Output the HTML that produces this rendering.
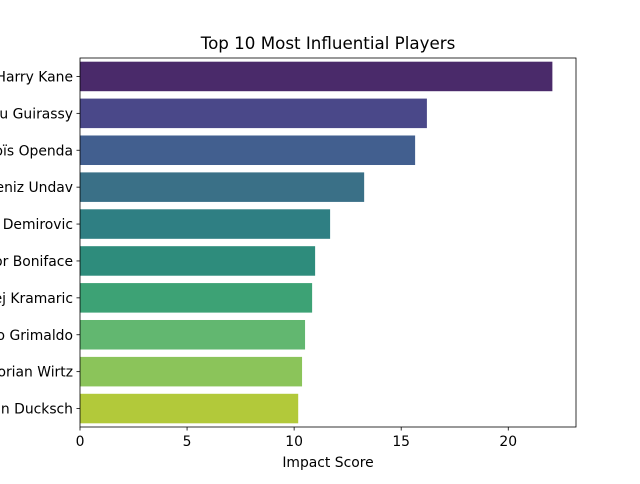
<!DOCTYPE html>
<html><head><meta charset="utf-8"><style>
body{margin:0;background:#fff;font-family:"DejaVu Sans",sans-serif;}
svg text{font-family:"DejaVu Sans",sans-serif;}
</style></head><body>
<svg id="chart" width="640" height="480" xmlns="http://www.w3.org/2000/svg">
<rect width="640" height="480" fill="#fff"/>
<text x="328" y="49" text-anchor="middle" font-size="16.7">Top 10 Most Influential Players</text>
<g id="bars"></g>
<g id="axes"></g>
<text x="328" y="467" text-anchor="middle" font-size="13.9">Impact Score</text>
</svg>
<script>
const players=["Harry Kane","Serhou Guirassy","Loïs Openda","Deniz Undav","Ermedin Demirovic","Victor Boniface","Andrej Kramaric","Alejandro Grimaldo","Florian Wirtz","Marvin Ducksch"];
const scores=[22.06,16.2,15.65,13.27,11.68,10.98,10.84,10.51,10.37,10.19];
const colors=["#4a2a6a","#4a4889","#425f8f","#3a7087","#2f7f83","#2e8c7c","#3da275","#62b770","#8bc45a","#b2c93a"];
const xTicks=[0,5,10,15,20];
const L=80,R=576,T=58,B=427;
const xmax=Math.max(...scores)*1.05;
const x=v=>L+(v/xmax)*(R-L);
const band=(B-T)/players.length;
const y=i=>T+band*i;
const NS="http://www.w3.org/2000/svg";
const bars=document.getElementById('bars'),axes=document.getElementById('axes');
function mk(t,a,p){const e=document.createElementNS(NS,t);for(const k in a)e.setAttribute(k,a[k]);p.appendChild(e);return e;}
players.forEach((p,i)=>{
 const r=mk('rect',{x:L,y:y(i)+band*0.1,width:x(scores[i])-L,height:band*0.8,fill:colors[i]},bars);
 
 
 const cy=y(i)+band/2;
 mk('line',{x1:L-3.5,x2:L,y1:cy,y2:cy,stroke:'#000','stroke-width':0.8},axes);
 const t=mk('text',{x:L-7,y:cy+5,'text-anchor':'end','font-size':13.9},axes);
 t.textContent=p;
 
 
});
xTicks.forEach(v=>{
 mk('line',{x1:x(v),x2:x(v),y1:B,y2:B+3.5,stroke:'#000','stroke-width':0.8},axes);
 const t=mk('text',{x:x(v),y:B+19,'text-anchor':'middle','font-size':13.9},axes);
 t.textContent=v;
 
 
});
const f=mk('rect',{x:L,y:T,width:R-L,height:B-T,fill:'none',stroke:'#000','stroke-width':0.8},axes);


</script>
</body></html>
